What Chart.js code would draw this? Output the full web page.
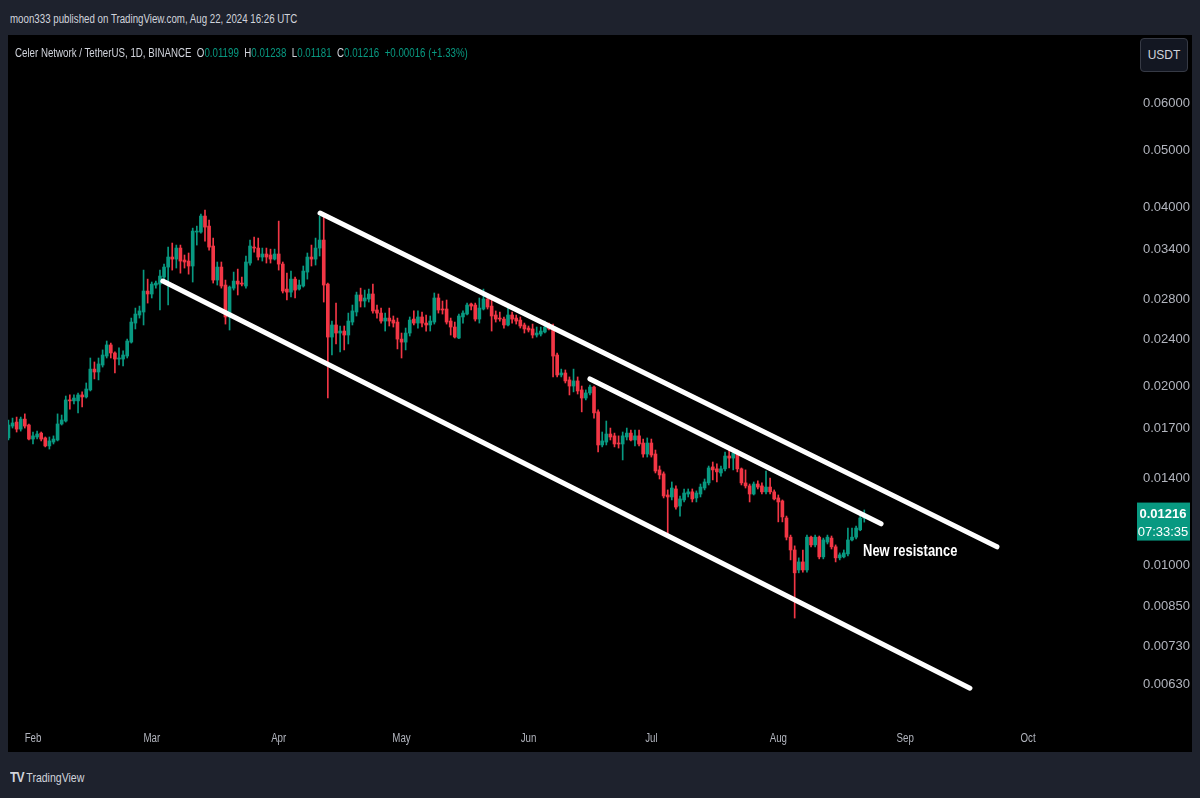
<!DOCTYPE html>
<html>
<head>
<meta charset="utf-8">
<script src="https://cdn.jsdelivr.net/npm/chart.js@4.4.1/dist/chart.umd.min.js"></script>
<style>
  body { margin: 0; width: 1200px; height: 798px; background: #1e222d; overflow: hidden;
         font-family: "Liberation Sans", sans-serif; }
  .narrow { transform: scaleX(0.81); transform-origin: left center; white-space: pre; }
  #byline { position: absolute; left: 10px; top: 12px; font-size: 12px; color: #d1d4dc; }
  #pane { position: absolute; left: 8px; top: 35px; width: 1184px; height: 717px; background: #000; }
  #legend { position: absolute; left: 15px; top: 46px; font-size: 12px; color: #d1d4dc; }
  #legend .v { color: #089981; }
  #unit { position: absolute; left: 1140px; top: 38px; width: 46px; height: 32px; border: 1px solid #363a45;
          border-radius: 4px; background: #131722; color: #d1d4dc; font-size: 12px; line-height: 32px; text-align: center; }
  #brand { position: absolute; left: 10px; top: 768px; color: #d1d4dc; font-size: 13px; }
  #brand b { font-size: 15px; letter-spacing: -1px; margin-right: 3px; }
</style>
</head>
<body>
<div id="byline" class="narrow">moon333 published on TradingView.com, Aug 22, 2024 16:26 UTC</div>
<div id="pane"><canvas id="chart" width="1184" height="717"></canvas></div>
<div id="legend" class="narrow"></div>
<div id="unit">USDT</div>
<div id="brand" class="narrow"><b>TV</b>TradingView</div>
<script>
// Celer Network / TetherUS, 1D, BINANCE - daily candles 2024-01-26 .. 2024-08-22
// x axis is counted in days from Feb 1, 2024
const firstDay = -6;

const opens = [
  0.01637, 0.01714, 0.01741, 0.01694, 0.01761, 0.01721, 0.01630, 0.01643, 0.01668, 0.01637,
  0.01587, 0.01611, 0.01624, 0.01728, 0.01748, 0.01897, 0.01890, 0.01890, 0.01934, 0.01919,
  0.01972, 0.02138, 0.02114, 0.02172, 0.02249, 0.02348, 0.02276, 0.02223, 0.02223, 0.02249,
  0.02374, 0.02556, 0.02637, 0.02668, 0.02894, 0.02861, 0.02962, 0.02973, 0.03055, 0.03176,
  0.03302, 0.03276, 0.03419, 0.03264, 0.03251, 0.03189, 0.03638, 0.03638, 0.03871, 0.03723,
  0.03446, 0.03020, 0.03176, 0.02962, 0.02617, 0.02927, 0.03008, 0.02985, 0.02951, 0.03226,
  0.03432, 0.03419, 0.03302, 0.03341, 0.03328, 0.03276, 0.03341, 0.03213, 0.02916, 0.02882,
  0.03031, 0.02916, 0.02951, 0.03115, 0.03302, 0.03276, 0.03419, 0.03527, 0.02973, 0.02421,
  0.02537, 0.02459, 0.02478, 0.02440, 0.02566, 0.02668, 0.02850, 0.02784, 0.02806, 0.02861,
  0.02689, 0.02657, 0.02576, 0.02606, 0.02586, 0.02566, 0.02402, 0.02374, 0.02459, 0.02596,
  0.02556, 0.02617, 0.02556, 0.02537, 0.02566, 0.02817, 0.02699, 0.02699, 0.02576, 0.02517,
  0.02412, 0.02617, 0.02647, 0.02752, 0.02741, 0.02596, 0.02699, 0.02806, 0.02730, 0.02637,
  0.02606, 0.02596, 0.02537, 0.02637, 0.02606, 0.02586, 0.02537, 0.02507, 0.02498, 0.02440,
  0.02449, 0.02469, 0.02517, 0.02507, 0.02258, 0.02090, 0.02106, 0.02050, 0.02002, 0.02042,
  0.01972, 0.01911, 0.01949, 0.01994, 0.01811, 0.01593, 0.01611, 0.01662, 0.01650, 0.01605,
  0.01599, 0.01643, 0.01668, 0.01624, 0.01650, 0.01605, 0.01538, 0.01605, 0.01538, 0.01446,
  0.01424, 0.01312, 0.01302, 0.01343, 0.01257, 0.01287, 0.01317, 0.01328, 0.01297, 0.01317,
  0.01348, 0.01375, 0.01463, 0.01452, 0.01429, 0.01452, 0.01526, 0.01514, 0.01544, 0.01452,
  0.01375, 0.01359, 0.01317, 0.01369, 0.01359, 0.01328, 0.01353, 0.01328, 0.01297, 0.01282,
  0.01200, 0.01114, 0.01060, 0.00981, 0.01012, 0.00981, 0.01114, 0.01081, 0.01114, 0.01032,
  0.01093, 0.01110, 0.01073, 0.01028, 0.01032, 0.01044, 0.01102, 0.01114, 0.01146, 0.01199
];
const highs = [
  0.01755, 0.01768, 0.01775, 0.01775, 0.01797, 0.01728, 0.01675, 0.01681, 0.01675, 0.01643,
  0.01643, 0.01650, 0.01797, 0.01789, 0.01926, 0.01934, 0.01934, 0.01949, 0.01957, 0.02026,
  0.02232, 0.02198, 0.02232, 0.02303, 0.02384, 0.02365, 0.02285, 0.02321, 0.02294, 0.02402,
  0.02606, 0.02709, 0.02730, 0.03139, 0.03031, 0.02997, 0.03008, 0.03139, 0.03213, 0.03432,
  0.03486, 0.03459, 0.03459, 0.03328, 0.03354, 0.03694, 0.03723, 0.03901, 0.03962, 0.03811,
  0.03554, 0.03239, 0.03239, 0.03020, 0.02951, 0.03115, 0.03151, 0.03055, 0.03315, 0.03527,
  0.03568, 0.03554, 0.03419, 0.03419, 0.03405, 0.03405, 0.03796, 0.03239, 0.03102, 0.03127,
  0.03055, 0.03020, 0.03189, 0.03354, 0.03459, 0.03554, 0.03871, 0.03901, 0.02985, 0.02576,
  0.02762, 0.02527, 0.02527, 0.02657, 0.02741, 0.02882, 0.02927, 0.02905, 0.02916, 0.02973,
  0.02741, 0.02709, 0.02657, 0.02709, 0.02627, 0.02606, 0.02459, 0.02507, 0.02617, 0.02679,
  0.02679, 0.02668, 0.02637, 0.02627, 0.02872, 0.02861, 0.02784, 0.02795, 0.02606, 0.02566,
  0.02647, 0.02679, 0.02762, 0.02762, 0.02762, 0.02817, 0.02916, 0.02861, 0.02828, 0.02679,
  0.02668, 0.02617, 0.02720, 0.02668, 0.02637, 0.02617, 0.02556, 0.02527, 0.02546, 0.02517,
  0.02517, 0.02576, 0.02556, 0.02546, 0.02276, 0.02138, 0.02131, 0.02074, 0.02138, 0.02074,
  0.02002, 0.01972, 0.02010, 0.02002, 0.01825, 0.01675, 0.01748, 0.01701, 0.01668, 0.01650,
  0.01675, 0.01701, 0.01688, 0.01688, 0.01688, 0.01630, 0.01637, 0.01630, 0.01562, 0.01468,
  0.01435, 0.01338, 0.01380, 0.01359, 0.01307, 0.01343, 0.01343, 0.01343, 0.01333, 0.01369,
  0.01396, 0.01468, 0.01491, 0.01480, 0.01468, 0.01550, 0.01574, 0.01562, 0.01562, 0.01457,
  0.01446, 0.01369, 0.01380, 0.01386, 0.01375, 0.01440, 0.01401, 0.01338, 0.01312, 0.01287,
  0.01209, 0.01123, 0.01077, 0.01028, 0.01060, 0.01123, 0.01119, 0.01123, 0.01119, 0.01110,
  0.01123, 0.01119, 0.01081, 0.01048, 0.01060, 0.01154, 0.01154, 0.01163, 0.01219, 0.01238
];
const lows = [
  0.01624, 0.01701, 0.01675, 0.01681, 0.01701, 0.01624, 0.01599, 0.01630, 0.01618, 0.01581,
  0.01568, 0.01599, 0.01618, 0.01721, 0.01741, 0.01831, 0.01868, 0.01804, 0.01846, 0.01911,
  0.01964, 0.02058, 0.02050, 0.02155, 0.02232, 0.02232, 0.02106, 0.02172, 0.02164, 0.02232,
  0.02365, 0.02498, 0.02606, 0.02537, 0.02762, 0.02817, 0.02927, 0.02689, 0.02997, 0.02741,
  0.03139, 0.03164, 0.03102, 0.03164, 0.03090, 0.02997, 0.03459, 0.03623, 0.03513, 0.03392,
  0.02985, 0.02962, 0.02927, 0.02546, 0.02488, 0.02905, 0.02850, 0.02951, 0.02927, 0.03201,
  0.03366, 0.03264, 0.03251, 0.03226, 0.03226, 0.03264, 0.03139, 0.02872, 0.02795, 0.02828,
  0.02817, 0.02905, 0.02939, 0.03031, 0.03189, 0.03201, 0.03315, 0.02773, 0.01911, 0.02258,
  0.02357, 0.02285, 0.02303, 0.02357, 0.02537, 0.02627, 0.02720, 0.02720, 0.02773, 0.02657,
  0.02606, 0.02556, 0.02478, 0.02527, 0.02517, 0.02312, 0.02232, 0.02303, 0.02431, 0.02537,
  0.02507, 0.02517, 0.02478, 0.02478, 0.02546, 0.02657, 0.02647, 0.02546, 0.02440, 0.02412,
  0.02405, 0.02556, 0.02637, 0.02689, 0.02576, 0.02556, 0.02689, 0.02699, 0.02478, 0.02566,
  0.02576, 0.02507, 0.02527, 0.02556, 0.02546, 0.02507, 0.02459, 0.02469, 0.02412, 0.02421,
  0.02431, 0.02459, 0.02488, 0.02074, 0.02074, 0.02074, 0.02026, 0.01934, 0.01957, 0.01941,
  0.01811, 0.01897, 0.01934, 0.01768, 0.01550, 0.01581, 0.01593, 0.01624, 0.01581, 0.01574,
  0.01503, 0.01624, 0.01618, 0.01587, 0.01587, 0.01520, 0.01520, 0.01520, 0.01429, 0.01396,
  0.01297, 0.01123, 0.01287, 0.01242, 0.01209, 0.01277, 0.01302, 0.01277, 0.01277, 0.01302,
  0.01338, 0.01364, 0.01391, 0.01380, 0.01412, 0.01440, 0.01457, 0.01446, 0.01435, 0.01364,
  0.01348, 0.01277, 0.01312, 0.01343, 0.01317, 0.01317, 0.01317, 0.01287, 0.01182, 0.01182,
  0.01102, 0.01020, 0.00814, 0.00970, 0.00973, 0.00973, 0.01073, 0.01073, 0.01024, 0.01024,
  0.01085, 0.01064, 0.01012, 0.01020, 0.01028, 0.01036, 0.01098, 0.01106, 0.01142, 0.01181
];
const closes = [
  0.01721, 0.01735, 0.01694, 0.01761, 0.01714, 0.01630, 0.01650, 0.01662, 0.01630, 0.01587,
  0.01618, 0.01630, 0.01728, 0.01755, 0.01897, 0.01890, 0.01911, 0.01934, 0.01919, 0.01979,
  0.02138, 0.02114, 0.02181, 0.02258, 0.02348, 0.02276, 0.02223, 0.02232, 0.02258, 0.02384,
  0.02566, 0.02647, 0.02679, 0.02894, 0.02861, 0.02973, 0.02985, 0.03067, 0.03176, 0.03302,
  0.03276, 0.03419, 0.03251, 0.03239, 0.03189, 0.03652, 0.03652, 0.03871, 0.03709, 0.03432,
  0.03020, 0.03176, 0.02951, 0.02617, 0.02939, 0.03008, 0.02973, 0.02973, 0.03239, 0.03446,
  0.03419, 0.03302, 0.03341, 0.03302, 0.03276, 0.03341, 0.03213, 0.02894, 0.02882, 0.03031,
  0.02905, 0.02962, 0.03127, 0.03302, 0.03276, 0.03419, 0.03527, 0.02962, 0.02421, 0.02537,
  0.02459, 0.02478, 0.02440, 0.02576, 0.02679, 0.02850, 0.02784, 0.02817, 0.02861, 0.02679,
  0.02657, 0.02576, 0.02606, 0.02576, 0.02556, 0.02402, 0.02374, 0.02459, 0.02586, 0.02556,
  0.02617, 0.02556, 0.02537, 0.02576, 0.02817, 0.02689, 0.02689, 0.02566, 0.02517, 0.02421,
  0.02627, 0.02657, 0.02741, 0.02730, 0.02596, 0.02709, 0.02806, 0.02720, 0.02627, 0.02596,
  0.02596, 0.02537, 0.02637, 0.02596, 0.02576, 0.02527, 0.02498, 0.02488, 0.02440, 0.02459,
  0.02478, 0.02517, 0.02498, 0.02249, 0.02090, 0.02106, 0.02042, 0.02002, 0.02042, 0.01964,
  0.01911, 0.01949, 0.01994, 0.01804, 0.01593, 0.01618, 0.01662, 0.01643, 0.01599, 0.01599,
  0.01650, 0.01668, 0.01624, 0.01650, 0.01599, 0.01538, 0.01605, 0.01532, 0.01440, 0.01418,
  0.01307, 0.01302, 0.01348, 0.01252, 0.01292, 0.01322, 0.01328, 0.01292, 0.01322, 0.01353,
  0.01380, 0.01457, 0.01446, 0.01435, 0.01452, 0.01526, 0.01514, 0.01544, 0.01452, 0.01375,
  0.01359, 0.01317, 0.01369, 0.01353, 0.01328, 0.01353, 0.01328, 0.01292, 0.01277, 0.01205,
  0.01114, 0.01060, 0.00970, 0.01012, 0.00981, 0.01114, 0.01081, 0.01114, 0.01032, 0.01102,
  0.01114, 0.01073, 0.01028, 0.01040, 0.01048, 0.01102, 0.01114, 0.01154, 0.01200, 0.01216
];

const monthDays = [0, 29, 60, 90, 121, 151, 182, 213, 243];
const monthLabels = ['Feb', 'Mar', 'Apr', 'May', 'Jun', 'Jul', 'Aug', 'Sep', 'Oct'];
const priceTicks = [0.06, 0.05, 0.04, 0.034, 0.028, 0.024, 0.02, 0.017, 0.014, 0.01, 0.0085, 0.0073, 0.0063];

// hand-drawn channel lines (day, price)
const upperDays = [70.1, 235.4];
const upperPrices = [0.03916, 0.01073];
const lowerDays = [31.7, 228.8];
const lowerPrices = [0.03008, 0.00620];
const innerDays = [136.0, 207.1];
const innerPrices = [0.02058, 0.01173];

const noteText = 'New resistance';
const noteDay = 202.7;
const notePrice = 0.01055;
const countdown = '07:33:35';

const upColor = '#089981';
const downColor = '#f23645';

// legend line with last candle values
function renderLegend() {
    const n = closes.length - 1;
    const f = v => v.toFixed(5);
    const chg = closes[n] - closes[n - 1];
    const pct = chg / closes[n - 1] * 100;
    document.getElementById('legend').innerHTML =
        'Celer Network / TetherUS, 1D, BINANCE  ' +
        'O<span class="v">' + f(opens[n]) + '</span>  ' +
        'H<span class="v">' + f(highs[n]) + '</span>  ' +
        'L<span class="v">' + f(lows[n]) + '</span>  ' +
        'C<span class="v">' + f(closes[n]) + '</span>  ' +
        '<span class="v">+' + f(chg) + ' (+' + pct.toFixed(2) + '%)</span>';
}

const candleColor = i => closes[i] >= opens[i] ? upColor : downColor;
const toPoints = (days, prices) => days.map((d, i) => ({ x: d, y: prices[i] }));

// note text, month labels and last price tag
const overlayPlugin = {
    id: 'overlay',
    afterDraw(chart) {
        const { ctx, chartArea } = chart;
        const x = chart.scales.x, y = chart.scales.y;
        ctx.save();
        ctx.fillStyle = '#ffffff';
        ctx.textBaseline = 'middle';

        // condensed text, like the TradingView snapshot font
        const narrowText = (text, px, py, font, color) => {
            ctx.save();
            ctx.font = font;
            ctx.fillStyle = color;
            ctx.translate(px, py);
            ctx.scale(0.81, 1);
            ctx.fillText(text, 0, 0);
            ctx.restore();
        };
        narrowText(noteText, x.getPixelForValue(noteDay), y.getPixelForValue(notePrice),
            'bold 16px "Liberation Sans", sans-serif', '#ffffff');

        ctx.textAlign = 'center';
        monthDays.forEach((d, i) => {
            narrowText(monthLabels[i], x.getPixelForValue(d), chartArea.bottom + 14,
                '12px "Liberation Sans", sans-serif', '#b2b5be');
        });

        const n = closes.length - 1;
        const py = y.getPixelForValue(closes[n]);
        ctx.fillStyle = upColor;
        ctx.fillRect(chartArea.right + 4, py - 12, 53, 38);
        ctx.fillStyle = '#ffffff';
        ctx.font = 'bold 13px "Liberation Sans", sans-serif';
        ctx.fillText(closes[n].toFixed(5), chartArea.right + 30, py);
        ctx.font = '13px "Liberation Sans", sans-serif';
        ctx.fillText(countdown, chartArea.right + 30, py + 18);
        ctx.restore();
    }
};

function renderChart() {
    const ctx = document.getElementById('chart');
    const days = opens.map((_, i) => firstDay + i);

    new Chart(ctx, {
        type: 'bar',
        data: {
            datasets: [
                {
                    type: 'line',
                    data: toPoints(upperDays, upperPrices),
                    borderColor: '#ffffff',
                    borderWidth: 5,
                    borderCapStyle: 'round',
                    pointRadius: 0,
                    order: 0
                },
                {
                    type: 'line',
                    data: toPoints(lowerDays, lowerPrices),
                    borderColor: '#ffffff',
                    borderWidth: 5,
                    borderCapStyle: 'round',
                    pointRadius: 0,
                    order: 0
                },
                {
                    type: 'line',
                    data: toPoints(innerDays, innerPrices),
                    borderColor: '#ffffff',
                    borderWidth: 5,
                    borderCapStyle: 'round',
                    pointRadius: 0,
                    order: 0
                },
                {
                    // candle bodies
                    data: days.map((d, i) => ({ x: d, y: [opens[i], closes[i]] })),
                    backgroundColor: c => candleColor(c.dataIndex),
                    barThickness: 3,
                    minBarLength: 1,
                    grouped: false,
                    order: 1
                },
                {
                    // wicks
                    data: days.map((d, i) => ({ x: d, y: [lows[i], highs[i]] })),
                    backgroundColor: c => candleColor(c.dataIndex),
                    barThickness: 1,
                    grouped: false,
                    order: 2
                }
            ]
        },
        options: {
            responsive: false,
            animation: false,
            layout: { padding: 0 },
            plugins: {
                legend: { display: false },
                tooltip: { enabled: false }
            },
            scales: {
                x: {
                    type: 'linear',
                    min: -6.105,
                    max: 268.62,
                    offset: false,
                    grid: { display: false, drawTicks: false },
                    border: { display: false },
                    afterBuildTicks: s => { s.ticks = monthDays.map(v => ({ value: v })); },
                    afterFit: s => { s.height = 27; s.paddingLeft = 0; s.paddingRight = 0; },
                    ticks: { display: false }
                },
                y: {
                    type: 'logarithmic',
                    position: 'right',
                    min: 0.005376,
                    max: 0.07813,
                    grid: { display: false, drawTicks: false },
                    border: { display: false },
                    afterBuildTicks: s => { s.ticks = priceTicks.map(v => ({ value: v })); },
                    afterFit: s => { s.width = 59; s.paddingTop = 0; s.paddingBottom = 0; },
                    ticks: {
                        autoSkip: false,
                        padding: 10,
                        color: '#b2b5be',
                        font: { family: '"Liberation Sans", sans-serif', size: 13 },
                        callback: v => v.toFixed(5)
                    }
                }
            }
        },
        plugins: [overlayPlugin]
    });
}

renderLegend();
renderChart();
</script>
</body>
</html>
